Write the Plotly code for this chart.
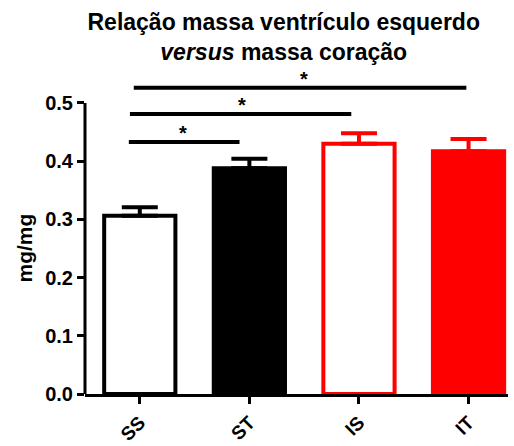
import plotly.graph_objects as go

categories = ["SS", "ST", "IS", "IT"]
means = [0.306, 0.388, 0.430, 0.417]
sems = [0.015, 0.016, 0.018, 0.021]
fill_colors = ["white", "black", "white", "red"]
line_colors = ["black", "black", "red", "red"]

# significance brackets: x start, x end, y level, star x position
sig_x0 = [-0.10, -0.09, -0.055]
sig_x1 = [0.91, 1.93, 2.98]
sig_y = [0.433, 0.481, 0.526]
sig_star_x = [0.39, 0.93, 1.50]
sig_text = ["*", "*", "*"]

y_title = "mg/mg"

FONT = "Liberation Sans, Arial, sans-serif"

fig = go.Figure()
for i, c in enumerate(categories):
    fig.add_trace(go.Bar(
        x=[c], y=[means[i]], width=0.65,
        marker=dict(color=fill_colors[i], line=dict(color=line_colors[i], width=4)),
        error_y=dict(type="data", array=[sems[i]], arrayminus=[0], symmetric=False,
                     thickness=4, width=18, color=line_colors[i]),
        showlegend=False,
    ))

shapes = [dict(type="line", xref="paper", x0=0, x1=0, yref="y", y0=0, y1=0.5,
               line=dict(color="black", width=3))]
annotations = []
for x0, x1, y, sx, t in zip(sig_x0, sig_x1, sig_y, sig_star_x, sig_text):
    shapes.append(dict(type="line", xref="x", yref="y", x0=x0, x1=x1, y0=y, y1=y,
                       line=dict(color="black", width=4)))
    annotations.append(dict(x=sx, y=y, xref="x", yref="y", text=t,
                            showarrow=False, yanchor="bottom", yshift=-4,
                            font=dict(family=FONT, size=20, color="black", weight="bold")))

# y-axis title (centred on the 0-0.5 axis segment)
annotations.append(dict(x=0, xref="paper", y=0.25, yref="y", text=y_title,
                        textangle=-90, showarrow=False, xanchor="center", yanchor="middle",
                        xshift=-61,
                        font=dict(family=FONT, size=21, color="black", weight="bold")))

fig.update_layout(
    width=514, height=446,
    margin=dict(l=85, r=6, t=68, b=52, autoexpand=False),
    paper_bgcolor="white", plot_bgcolor="white",
    barmode="overlay",
    title=dict(text="Relação massa ventrículo esquerdo<br><i>versus</i> massa coração",
               x=0.552, xanchor="center", y=0.933, yanchor="middle",
               font=dict(family=FONT, size=23, color="black", weight="bold")),
    xaxis=dict(categoryorder="array", categoryarray=categories, range=[-0.5, 3.36],
               showline=True, linewidth=3, linecolor="black", automargin=False,
               ticks="outside", ticklen=7, tickwidth=3, tickcolor="black",
               tickangle=-45, showgrid=False, zeroline=False,
               tickfont=dict(family=FONT, size=19, color="black", weight="bold")),
    yaxis=dict(range=[0, 0.56], tickvals=[0, 0.1, 0.2, 0.3, 0.4, 0.5], tickformat=".1f",
               showline=False, ticks="outside", ticklen=7, tickwidth=3, tickcolor="black",
               showgrid=False, zeroline=False, automargin=False,
               tickfont=dict(family=FONT, size=20, color="black", weight="bold")),
    shapes=shapes,
    annotations=annotations,
)

fig.write_html("out.html")
